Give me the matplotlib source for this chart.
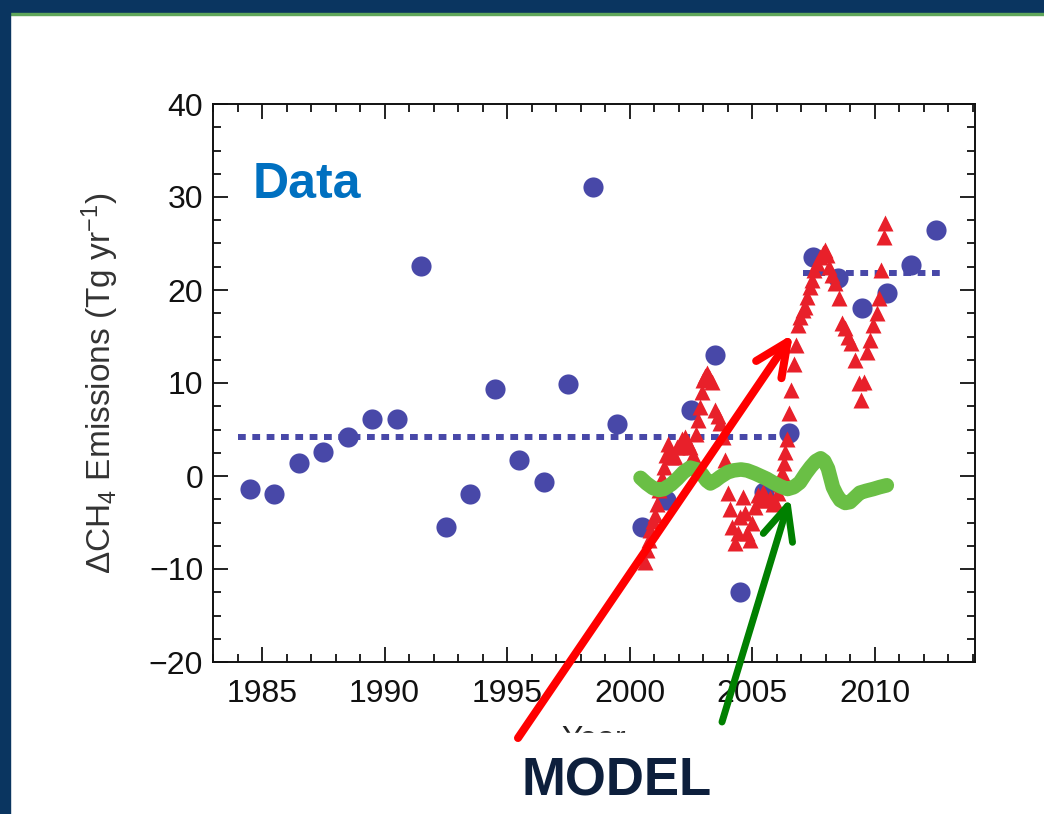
import numpy as np
import matplotlib
matplotlib.use('Agg')
from matplotlib import pyplot as plt
from matplotlib.patches import Rectangle, FancyArrowPatch
from matplotlib.ticker import MultipleLocator

plt.rcParams['font.family'] = ['Liberation Sans', 'DejaVu Sans']
plt.rcParams['mathtext.fontset'] = 'custom'
plt.rcParams['mathtext.rm'] = 'Liberation Sans'
plt.rcParams['mathtext.it'] = 'Liberation Sans:italic'

## data ##
# annual observed emission changes (blue circles)
obs_year = np.arange(1984.5, 2013.0, 1.0)
obs_val = [-1.4, -1.9, 1.4, 2.6, 4.2, 6.1, 6.1, 22.6, -5.5, -1.9,
           9.4, 1.7, -0.6, 9.9, 31.1, 5.6, -5.5, -2.6, 7.1, 13.0,
           -12.5, -1.7, 4.6, 23.5, 21.3, 18.1, 19.7, 22.7, 26.5]

# period means (dotted lines)
mean_start = [1984.0, 2007.1]
mean_end = [2006.6, 2012.8]
mean_val = [4.2, 21.8]

# red triangles
tri_year = [2000.62, 2000.71, 2000.78, 2000.84, 2000.95, 2001.04, 2001.12, 2001.22,
            2001.33, 2001.42, 2001.50, 2001.57, 2001.62, 2001.70, 2001.86, 2001.95,
            2002.06, 2002.16, 2002.27, 2002.37, 2002.47, 2002.60, 2002.72, 2002.80,
            2002.88, 2002.95, 2003.00, 2003.08, 2003.16, 2003.26, 2003.37, 2003.49,
            2003.60, 2003.69, 2003.82, 2003.90, 2004.02, 2004.10, 2004.18, 2004.31,
            2004.43, 2004.51, 2004.63, 2004.72, 2004.80, 2004.90, 2005.00, 2005.12,
            2005.25, 2005.37, 2005.45, 2005.58, 2005.73, 2005.85, 2005.94, 2006.05,
            2006.14, 2006.22, 2006.29, 2006.35, 2006.43, 2006.51, 2006.60, 2006.70,
            2006.80, 2006.88, 2006.97, 2007.08, 2007.16, 2007.26, 2007.37, 2007.45,
            2007.52, 2007.65, 2007.78, 2007.90, 2007.98, 2008.06, 2008.14, 2008.26,
            2008.40, 2008.55, 2008.67, 2008.80, 2008.92, 2009.04, 2009.20, 2009.37,
            2009.45, 2009.57, 2009.69, 2009.82, 2009.94, 2010.10, 2010.20, 2010.27,
            2010.39, 2010.43]
tri_val = [-9.2, -8.0, -6.9, -5.8, -4.8, -4.2, -3.0, -1.5,
           -0.2, 1.0, 2.3, 3.4, 2.5, 2.0, 2.0, 3.1,
           3.1, 4.0, 4.2, 3.5, 3.1, 2.3, 4.5, 6.0,
           7.4, 9.0, 10.3, 10.8, 11.1, 10.6, 10.1, 7.1,
           6.4, 5.7, 4.2, 1.7, -1.8, -3.5, -5.5, -7.2,
           -6.1, -4.4, -2.3, -4.0, -6.1, -6.9, -5.1, -3.3,
           -2.0, -2.6, -1.7, -2.6, -2.4, -3.0, -2.8, -1.8,
           -0.9, 0.3, 1.4, 2.6, 4.0, 6.8, 9.2, 12.0,
           14.1, 16.2, 17.1, 17.8, 18.2, 19.2, 20.3, 21.1,
           22.2, 22.9, 23.5, 24.0, 24.3, 23.8, 22.5, 21.6,
           20.8, 19.1, 16.5, 15.9, 14.9, 14.3, 12.5, 10.0,
           8.2, 10.1, 13.3, 14.6, 16.2, 17.5, 19.1, 22.2,
           25.7, 27.2]

# green model curve
model_year = [2000.45, 2000.7, 2000.96, 2001.2, 2001.4, 2001.7, 2001.95, 2002.2,
              2002.47, 2002.75, 2002.96, 2003.15, 2003.3, 2003.5, 2003.7, 2004.0,
              2004.25, 2004.55, 2004.8, 2005.1, 2005.35, 2005.6, 2005.86, 2006.15,
              2006.45, 2006.7, 2006.95, 2007.2, 2007.4, 2007.6, 2007.8, 2007.95,
              2008.1, 2008.2, 2008.3, 2008.45, 2008.6, 2008.8, 2009.0, 2009.2,
              2009.4, 2009.65, 2009.95, 2010.2, 2010.5]
model_val = [-0.2, -0.8, -1.3, -1.5, -1.4, -0.9, -0.3, 0.4,
             0.9, 0.7, 0.2, -0.5, -0.8, -0.5, -0.1, 0.4,
             0.6, 0.7, 0.6, 0.3, 0.0, -0.3, -0.7, -1.1,
             -1.4, -1.2, -0.7, 0.3, 1.0, 1.6, 1.9, 1.6,
             0.8, -0.2, -1.2, -2.0, -2.6, -2.9, -2.8, -2.3,
             -1.8, -1.6, -1.4, -1.2, -1.0]

W, H = 1044, 814
def fx(px):
    return px / W
def fy(py):
    return 1 - py / H

fig = plt.figure(figsize=(W / 100, H / 100), dpi=100)
fig.patch.set_facecolor('white')
ax = fig.add_axes([fx(213), fy(662), fx(975) - fx(213), fy(104) - fy(662)])

blue = '#4848a8'
ax.plot(obs_year, obs_val, 'o', color=blue, ms=14.5, mec='none', zorder=2)
for x0, x1, v in zip(mean_start, mean_end, mean_val):
    ax.plot([x0, x1], [v, v], color=blue, lw=4.3, ls=(0, (1.3, 1.1)),
            dash_capstyle='butt', zorder=2)
ax.plot(tri_year, tri_val, '^', color='#e8202a', ms=12, mec='none', zorder=3)
ax.plot(model_year, model_val, '-', color='#6abf45', lw=10.5,
        solid_capstyle='round', solid_joinstyle='round', zorder=4)

ax.set_xlim(1983, 2014.1)
ax.set_ylim(-20, 40)
ax.xaxis.set_major_locator(MultipleLocator(5))
ax.xaxis.set_minor_locator(MultipleLocator(1))
ax.yaxis.set_major_locator(MultipleLocator(10))
ax.yaxis.set_minor_locator(MultipleLocator(2.5))
ax.tick_params(which='both', direction='in', top=True, right=True,
               width=1.3, colors='#111111', labelsize=23)
ax.tick_params(which='major', length=11)
ax.tick_params(which='minor', length=6)
ax.tick_params(axis='x', pad=12)
ax.tick_params(axis='y', pad=7)
for s in ax.spines.values():
    s.set_linewidth(1.4)
    s.set_color('#111111')

ax.set_xlabel('Year', fontsize=23, color='#222222', labelpad=12)
ax.set_ylabel(r'$\Delta$CH$_4$ Emissions (Tg yr$^{-1}$)', fontsize=24,
              color='#333333', labelpad=20)

# slide frame
navy = '#0a3560'
fig.add_artist(Rectangle((0, fy(13)), 1, 13 / H, transform=fig.transFigure,
                         color=navy, zorder=5))
fig.add_artist(Rectangle((0, fy(15)), 1, 2 / H, transform=fig.transFigure,
                         color='#5fa65a', zorder=5))
fig.add_artist(Rectangle((0, 0), 10 / W, 1, transform=fig.transFigure,
                         color=navy, zorder=5))
# white area hiding the lower half of the axis label
fig.add_artist(Rectangle((fx(10), 0), 1, fy(733), transform=fig.transFigure,
                         color='white', zorder=1))

fig.text(fx(253), fy(198), 'Data', color='#0070c0', fontsize=36,
         fontweight='bold', va='baseline', ha='left')

# arrows pointing at the model curves
arrows = [((518, 738), (793, 334), '#ff0000', 5.8),
          ((722, 722), (790, 498), '#008000', 5.0)]
for (x0, y0), (x1, y1), col, lw in arrows:
    arr = FancyArrowPatch((fx(x0), fy(y0)), (fx(x1), fy(y1)),
                          transform=fig.transFigure,
                          arrowstyle='->,head_length=2.4,head_width=1.1',
                          mutation_scale=10, color=col, lw=lw,
                          shrinkA=0, shrinkB=0, zorder=6)
    fig.add_artist(arr)

fig.text(fx(617), fy(795), 'MODEL', color='#0d1f3c', fontsize=38,
         fontweight='bold', va='baseline', ha='center', zorder=7)

plt.savefig('out.png', dpi=100)
